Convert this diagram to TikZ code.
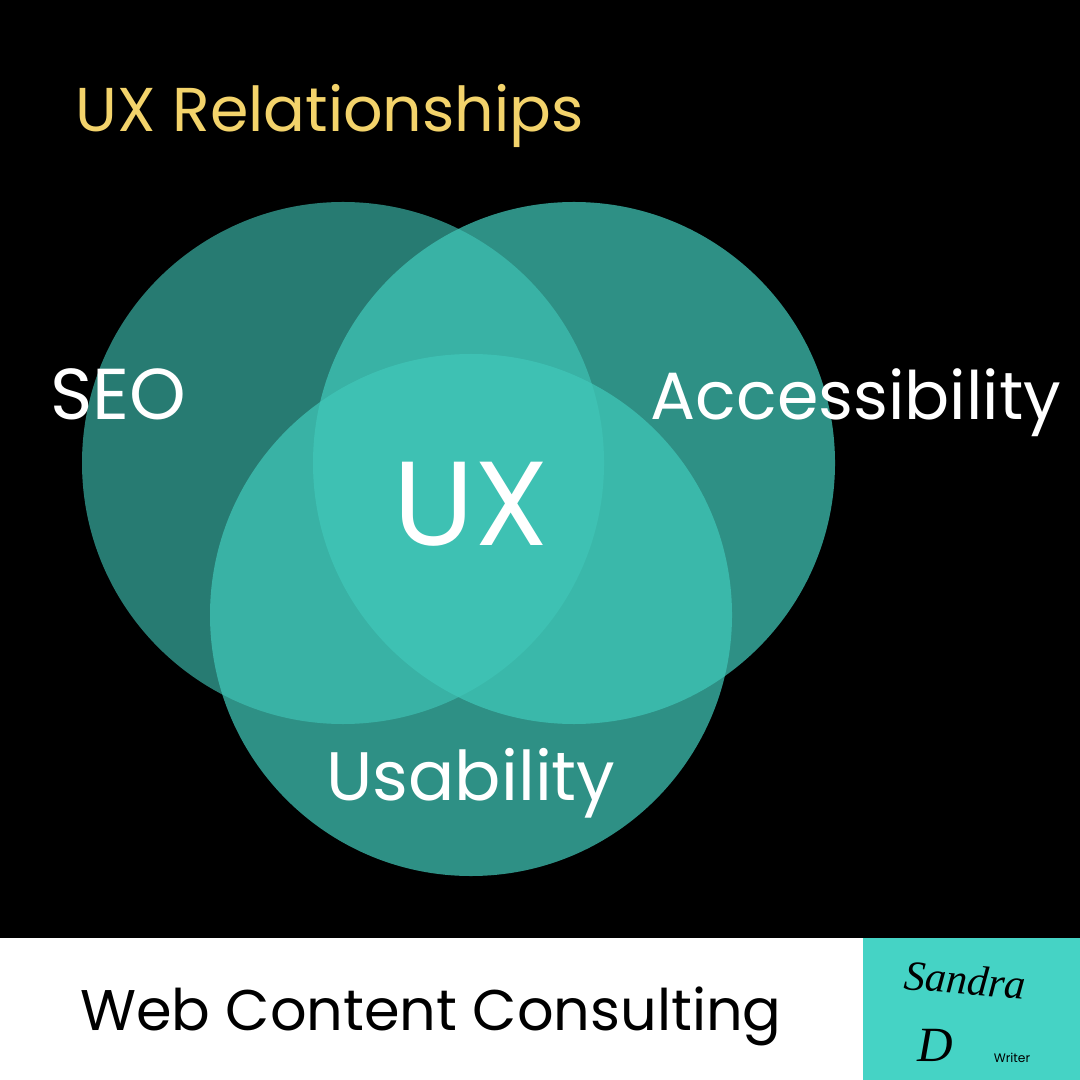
\documentclass[tikz,border=0pt]{standalone}
\usepackage{fontspec}
\setmainfont{Poppins}
\newfontfamily\scriptf{Liberation Serif}
\definecolor{teal1}{HTML}{40C8B9}
\definecolor{logo}{HTML}{45D3C5}
\definecolor{gold}{HTML}{F3D36B}
\tikzset{venn/.style={fill=teal1,fill opacity=0.62,draw=none},
lab/.style={text=white,inner sep=0pt,anchor=base}}
\begin{document}
\begin{tikzpicture}[x=0.01cm,y=-0.01cm]
\fill[black] (0,0) rectangle (1080,938);
\fill[white] (0,938) rectangle (1080,1080);
\fill[logo] (863,938) rectangle (1080,1080);
\path[use as bounding box] (0,0) rectangle (1080,1080);
\fill[venn] (343,463) circle (261);
\fill[venn,fill opacity=0.72] (574,463) circle (261);
\fill[venn,fill opacity=0.72] (471,615) circle (261);
\node[text=gold,anchor=base west,inner sep=0pt,font=\fontsize{17.6}{20}\selectfont] (t) at (75,132) {UX Relationships};
\node[lab,font=\fontsize{20.5}{22}\selectfont] (seo) at (118,420) {SEO};
\node[lab,font=\fontsize{19}{22}\selectfont] (acc) at (856,420) {Accessibility};
\node[lab,font=\fontsize{19.5}{22}\selectfont] (us) at (471,800) {Usability};
\node[lab,font=\fontsize{34}{38}\selectfont] (ux) at (471,545) {UX};
\node[text=black,anchor=base,inner sep=0pt,font=\fontsize{16.3}{20}\selectfont] (w) at (431,1030) {Web Content Consulting};
\node[inner sep=0pt,font=\scriptf\itshape\fontsize{12}{14}\selectfont,rotate=-5] (s) at (965,980) {Sandra};
\node[inner sep=0pt,font=\scriptf\itshape\fontsize{14}{14}\selectfont] (d) at (935,1045) {D};
\node[inner sep=0pt,font=\fontsize{3.5}{4}\selectfont] (wr) at (1012,1058) {Writer};
\end{tikzpicture}
\end{document}
